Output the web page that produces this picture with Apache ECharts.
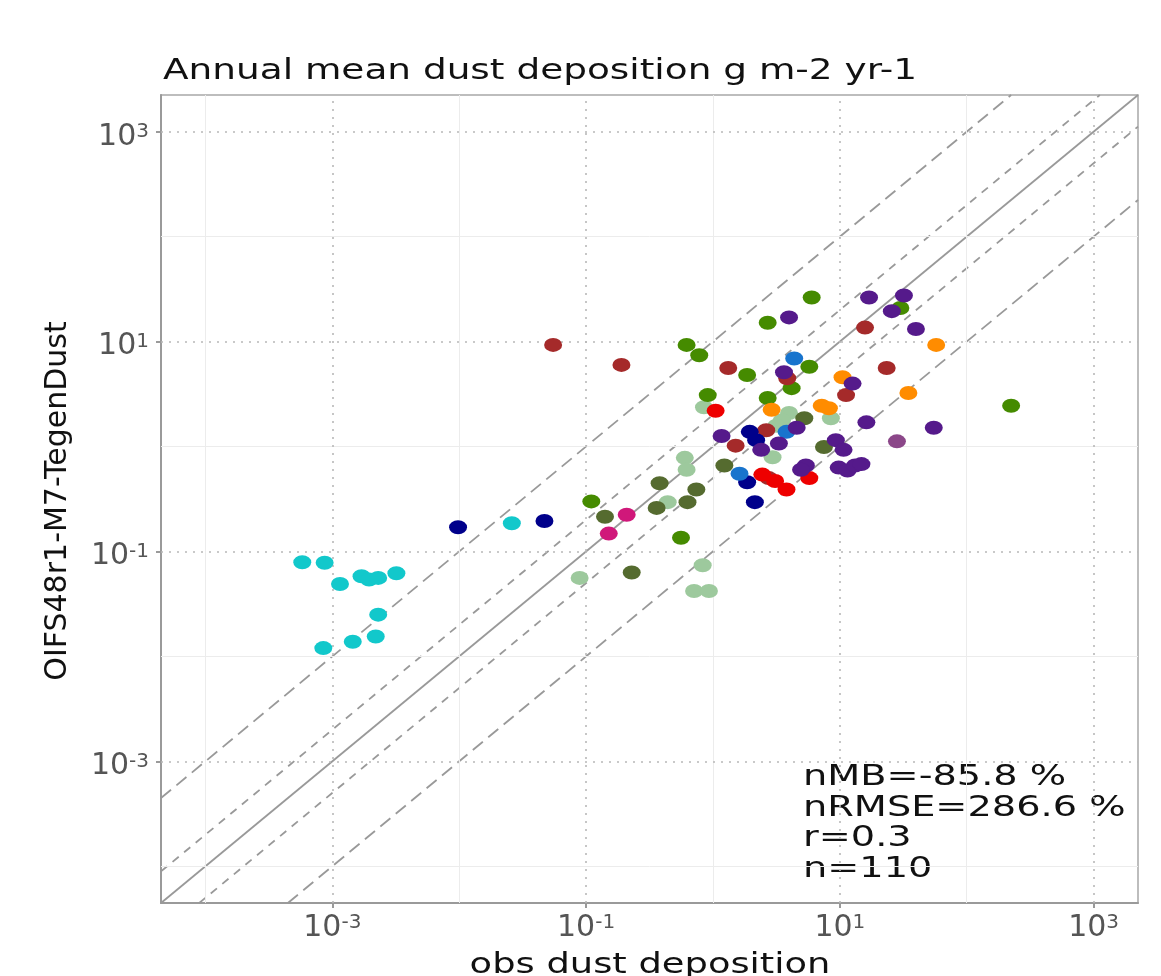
<!DOCTYPE html>
<html><head><meta charset="utf-8">
<script src="https://cdn.jsdelivr.net/npm/echarts@6/dist/echarts.min.js"></script>
<style>html,body{margin:0;padding:0;background:#fff}#c{width:1161px;height:976px}</style>
</head><body><div id="c"></div>
<script>
// ---- data (g m-2 yr-1) ----
const titleText = 'Annual mean dust deposition g m-2 yr-1';
const xTitle = 'obs dust deposition';
const yTitle = 'OIFS48r1-M7-TegenDust';
const statsLines = ['nMB=-85.8 %', 'nRMSE=286.6 %', 'r=0.3', 'n=110'];
const majorExp = [-3, -1, 1, 3];
const minorExp = [-4, -2, 0, 2];
const limitExp = [-4, 3];
const ratioLines = [1, 2, 0.5, 10, 0.1];

const obsCyan = [5.8e-4, 8.7e-4, 1.15e-3, 1.7e-3, 1.95e-3, 2.3e-3, 3.2e-3, 2.3e-3, 2.2e-3, 1.45e-3, 8.5e-4, 0.026];
const modCyan = [0.079, 0.078, 0.049, 0.058, 0.054, 0.056, 0.062, 0.025, 0.0155, 0.0138, 0.012, 0.186];

const obsNavy = [9.8e-3, 0.047, 1.95, 2.19, 1.86, 2.14];
const modNavy = [0.17, 0.195, 1.38, 1.15, 0.457, 0.295];

const obsBrown = [0.055, 0.19, 1.32, 1.51, 3.85, 11.2, 15.8, 23.4, 2.63, 2.75];
const modBrown = [9.3, 6.0, 5.6, 1.02, 4.47, 3.09, 13.6, 5.6, 1.43, 0.50];

const obsGreen = [0.11, 0.62, 0.78, 0.91, 1.86, 6.0, 2.7, 5.75, 4.17, 2.7, 30, 224, 0.56];
const modGreen = [0.30, 9.3, 7.4, 3.09, 4.8, 26.3, 15.1, 5.75, 3.6, 2.9, 20.9, 2.45, 0.135];

const obsOlive = [0.141, 0.229, 0.38, 0.36, 0.74, 0.63, 1.23, 5.25, 7.5];
const modOlive = [0.214, 0.063, 0.447, 0.26, 0.39, 0.295, 0.66, 1.86, 0.99];

const obsMagenta = [0.209, 0.151];
const modMagenta = [0.224, 0.148];

const obsPale = [0.089, 0.85, 0.60, 0.62, 0.44, 0.83, 0.71, 0.93, 3.98, 3.5, 3.16, 8.5, 2.95];
const modPale = [0.056, 2.37, 0.78, 0.60, 0.295, 0.074, 0.042, 0.042, 2.09, 1.78, 1.58, 1.86, 0.79];

const obsRed = [1.05, 2.45, 3.09, 3.8, 5.75];
const modRed = [2.19, 0.54, 0.47, 0.39, 0.50];

const obsBlue = [4.37, 1.62, 3.8];
const modBlue = [6.9, 0.55, 1.38];

const obsOrange = [10.5, 7.2, 8.2, 2.9, 34.7, 57.5];
const modOrange = [4.57, 2.45, 2.32, 2.24, 3.24, 9.3];

const obsPurple = [3.98, 3.63, 12.6, 1.17, 4.57, 3.31, 2.4, 9.3, 10.7, 16.2, 5.4, 4.95, 9.8, 11.5, 13.2, 14.8, 17.0, 32, 25.7, 39.8, 55];
const modPurple = [17.0, 5.1, 3.98, 1.26, 1.51, 1.07, 0.93, 1.15, 0.93, 1.7, 0.66, 0.60, 0.63, 0.59, 0.66, 0.68, 26.3, 27.5, 19.5, 13.2, 1.51];

const obsPlum = [28.2];
const modPlum = [1.12];

// ---- build ----
const L = Math.log10;
const span = limitExp[1] - limitExp[0];
const lo = limitExp[0] - 0.05 * span, hi = limitExp[1] + 0.05 * span;
const FONT = 'DejaVu Sans';
const STRETCH = 1.29;

const groups = [
  [obsPale, modPale, '#9DC99D'],
  [obsCyan, modCyan, '#12C8CB'],
  [obsOlive, modOlive, '#556B2F'],
  [obsGreen, modGreen, '#458B00'],
  [obsBrown, modBrown, '#A52A2A'],
  [obsNavy, modNavy, '#00008B'],
  [obsMagenta, modMagenta, '#D0187A'],
  [obsRed, modRed, '#EE0000'],
  [obsBlue, modBlue, '#1874CD'],
  [obsOrange, modOrange, '#FF8C00'],
  [obsPurple, modPurple, '#551A8B'],
  [obsPlum, modPlum, '#8B4789']
];

const series = [];
series.push({
  type: 'scatter', data: [], silent: true, z: 1,
  markLine: { silent: true, symbol: 'none', label: {show: false}, animation: false,
    lineStyle: {color: '#ececec', width: 1, type: 'solid'},
    data: minorExp.map(v => ({xAxis: v})).concat(minorExp.map(v => ({yAxis: v}))) }
});
series.push({
  type: 'scatter', data: [], silent: true, z: 1,
  markLine: { silent: true, symbol: 'none', label: {show: false}, animation: false,
    lineStyle: {color: '#b8b8b8', width: 1.6, type: [2, 6]},
    data: majorExp.map(v => ({xAxis: v})).concat(majorExp.map(v => ({yAxis: v}))) }
});
ratioLines.forEach(r => {
  const d = L(r);
  const x1 = Math.max(lo, lo - d), x2 = Math.min(hi, hi - d);
  let type = 'solid';
  if (Math.abs(Math.abs(d) - L(2)) < 1e-6) type = [8, 7];
  if (Math.abs(Math.abs(d) - 1) < 1e-6) type = [13, 7];
  series.push({
    type: 'line', silent: true, z: 2, symbol: 'none', clip: true, animation: false,
    lineStyle: {color: '#999999', width: 1.8, type: type},
    data: [[x1, x1 + d], [x2, x2 + d]]
  });
});
groups.forEach(g => {
  series.push({
    type: 'scatter', z: 5, animation: false,
    symbol: 'circle', symbolSize: [18, 14],
    itemStyle: {color: g[2], opacity: 1},
    data: g[0].map((v, i) => [L(v), L(g[1][i])])
  });
});

const labelFmt = v => '{b|10}{s|' + Math.round(v) + '}';
const rich = {
  b: {fontSize: 30, color: '#555555', fontFamily: FONT, lineHeight: 30, padding: [10, 0, 0, 0]},
  s: {fontSize: 20, color: '#555555', fontFamily: FONT, lineHeight: 17, padding: [5, 0, 0, 0], verticalAlign: 'top'}
};

const axisCommon = {
  type: 'value', min: lo, max: hi,
  axisLine: {show: true, onZero: false, lineStyle: {color: '#9a9a9a', width: 2}},
  axisTick: {show: true, length: 5, customValues: majorExp, lineStyle: {color: '#9a9a9a', width: 2}},
  splitLine: {show: false}
};

const textEl = (txt, x, y, size, sx, align) => ({
  type: 'text', x: x, y: y, silent: true, scaleX: sx,
  style: {text: txt, fontSize: size, fontFamily: FONT, fill: '#111', align: align || 'left', verticalAlign: 'middle'}
});

const graphics = [
  textEl(titleText, 163, 71, 29, STRETCH),
  textEl(xTitle, 650, 965.5, 29, 1.27, 'center'),
  {type: 'text', x: 58, y: 501, rotation: Math.PI / 2, silent: true,
   style: {text: yTitle, fontSize: 30, fontFamily: FONT, fill: '#111', align: 'center', verticalAlign: 'middle'}}
];
statsLines.forEach((s, i) => graphics.push(textEl(s, 803, 777.5 + 30.7 * i, 29, 1.32)));

const chart = echarts.init(document.getElementById('c'), null, {renderer: 'canvas'});
chart.setOption({
  backgroundColor: '#fff',
  animation: false,
  grid: {left: 161, top: 95, width: 977, height: 808, show: true, borderColor: '#a8a8a8', borderWidth: 1.5,
         backgroundColor: 'transparent', containLabel: false, outerBoundsMode: 'none'},
  xAxis: Object.assign({}, axisCommon, {
    axisLabel: {customValues: majorExp, formatter: labelFmt, rich: rich, margin: 5}
  }),
  yAxis: Object.assign({}, axisCommon, {
    axisLabel: {customValues: majorExp, formatter: labelFmt, rich: rich, margin: 12}
  }),
  graphic: graphics,
  series: series
});
</script></body></html>
